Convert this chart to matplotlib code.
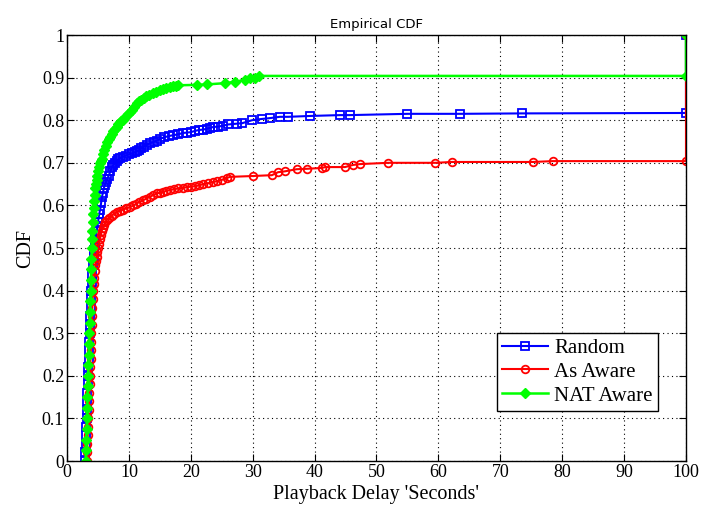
import matplotlib
matplotlib.use('Agg')
import matplotlib.pyplot as plt

# === DATOS: pares (retardo, CDF) ===
random_pts = [
    (2.9, 0), (2.95, 0.02), (3.0, 0.04), (3.05, 0.06), (3.1, 0.08), (3.15, 0.10), (3.2, 0.12),
    (3.25, 0.14), (3.3, 0.16), (3.35, 0.18), (3.4, 0.2), (3.45, 0.22), (3.5, 0.24), (3.55, 0.26),
    (3.6, 0.28), (3.65, 0.30), (3.7, 0.32), (3.75, 0.34), (3.8, 0.36), (3.85, 0.38), (3.9, 0.4),
    (4.0, 0.42), (4.1, 0.44), (4.2, 0.46), (4.3, 0.48), (4.4, 0.495), (4.5, 0.51), (4.6, 0.52),
    (4.7, 0.53), (4.8, 0.54), (4.9, 0.55), (5.0, 0.56), (5.1, 0.57), (5.2, 0.58), (5.35, 0.59),
    (5.5, 0.605), (5.65, 0.62), (5.8, 0.63), (5.95, 0.64), (6.1, 0.648), (6.3, 0.655), (6.5, 0.663),
    (6.75, 0.67), (7.0, 0.68), (7.25, 0.69), (7.5, 0.695), (7.75, 0.70), (8.0, 0.704), (8.3, 0.708),
    (8.6, 0.711), (9.0, 0.714), (9.5, 0.717), (10.0, 0.72), (10.5, 0.722), (11.0, 0.725),
    (11.3, 0.728), (11.7, 0.73), (12.0, 0.734), (12.4, 0.738), (12.9, 0.742), (13.4, 0.746),
    (14.0, 0.749), (14.5, 0.752), (15.0, 0.756), (15.7, 0.76), (16.5, 0.763), (17.2, 0.765),
    (18.0, 0.767), (18.7, 0.77), (19.4, 0.771), (20.0, 0.772), (20.7, 0.775), (21.3, 0.777),
    (22.0, 0.778), (22.6, 0.78), (23.1, 0.782), (23.6, 0.784), (24.4, 0.785), (25.2, 0.787),
    (26.0, 0.79), (27.5, 0.792), (28.3, 0.793), (29.9, 0.80), (31.5, 0.803), (32.8, 0.805),
    (34.4, 0.808), (35.7, 0.808), (39.3, 0.81), (44.1, 0.812), (45.7, 0.812), (55.0, 0.815),
    (63.5, 0.815), (73.5, 0.816), (100, 0.817), (100, 1.0),
]

as_aware_pts = [
    (3.2, 0), (3.25, 0.02), (3.3, 0.04), (3.35, 0.06), (3.4, 0.08), (3.45, 0.10), (3.5, 0.12),
    (3.55, 0.14), (3.6, 0.16), (3.65, 0.18), (3.7, 0.2), (3.75, 0.22), (3.8, 0.24), (3.85, 0.26),
    (3.9, 0.28), (3.95, 0.30), (4.0, 0.32), (4.05, 0.34), (4.1, 0.36), (4.15, 0.38), (4.2, 0.40),
    (4.3, 0.415), (4.4, 0.43), (4.5, 0.445), (4.6, 0.46), (4.7, 0.47), (4.8, 0.48), (4.9, 0.49),
    (5.0, 0.50), (5.15, 0.51), (5.3, 0.52), (5.45, 0.53), (5.6, 0.54), (5.8, 0.548), (6.0, 0.555),
    (6.2, 0.56), (6.4, 0.566), (6.8, 0.571), (7.2, 0.576), (7.6, 0.58), (8.1, 0.585), (8.5, 0.588),
    (9.0, 0.59), (9.6, 0.593), (10.2, 0.596), (10.7, 0.60), (11.2, 0.604), (11.7, 0.608),
    (12.3, 0.612), (12.8, 0.616), (13.4, 0.62), (13.9, 0.624), (14.5, 0.628), (15.0, 0.63),
    (15.5, 0.632), (16.0, 0.634), (16.6, 0.636), (17.3, 0.638), (18.0, 0.64), (18.7, 0.641),
    (19.4, 0.643), (20.0, 0.644), (20.7, 0.645), (21.3, 0.647), (22.0, 0.65), (22.8, 0.652),
    (23.6, 0.655), (24.3, 0.657), (25.0, 0.66), (25.8, 0.664), (26.3, 0.667), (30.0, 0.669),
    (33.1, 0.671), (34.1, 0.678), (35.2, 0.68), (37.1, 0.685), (38.8, 0.686), (41.2, 0.688),
    (41.7, 0.69), (44.9, 0.69), (46.2, 0.695), (47.3, 0.697), (51.9, 0.70), (59.5, 0.70),
    (62.2, 0.702), (75.3, 0.702), (78.5, 0.704), (100, 0.704), (100, 1.0),
]

nat_aware_pts = [
    (3.0, 0), (3.05, 0.025), (3.1, 0.05), (3.15, 0.075), (3.2, 0.1), (3.25, 0.125), (3.3, 0.15),
    (3.35, 0.175), (3.4, 0.2), (3.45, 0.225), (3.5, 0.25), (3.55, 0.275), (3.6, 0.3),
    (3.65, 0.325), (3.7, 0.35), (3.75, 0.375), (3.8, 0.4), (3.85, 0.425), (3.9, 0.45),
    (3.95, 0.475), (4.0, 0.5), (4.05, 0.52), (4.1, 0.54), (4.15, 0.56), (4.2, 0.58), (4.3, 0.595),
    (4.4, 0.61), (4.5, 0.625), (4.6, 0.64), (4.7, 0.65), (4.8, 0.66), (4.9, 0.67), (5.0, 0.68),
    (5.15, 0.69), (5.3, 0.70), (5.45, 0.705), (5.6, 0.71), (5.8, 0.72), (6.0, 0.73), (6.25, 0.74),
    (6.5, 0.75), (6.75, 0.755), (7.0, 0.76), (7.25, 0.768), (7.5, 0.775), (7.75, 0.78),
    (8.0, 0.785), (8.25, 0.79), (8.5, 0.795), (8.8, 0.798), (9.1, 0.80), (9.4, 0.808),
    (9.8, 0.815), (10.1, 0.82), (10.5, 0.825), (10.9, 0.832), (11.3, 0.84), (11.6, 0.844),
    (12.0, 0.848), (12.4, 0.852), (12.8, 0.856), (13.3, 0.86), (13.9, 0.864), (14.4, 0.867),
    (15.0, 0.87), (15.5, 0.873), (16.0, 0.875), (16.6, 0.878), (17.2, 0.88), (17.6, 0.881),
    (18.0, 0.882), (21.0, 0.883), (22.6, 0.884), (25.5, 0.887), (27.1, 0.89), (28.8, 0.895),
    (29.6, 0.898), (30.4, 0.90), (31.0, 0.904), (100, 0.904), (100, 1.0),
]

x_ticks = [0, 10, 20, 30, 40, 50, 60, 70, 80, 90, 100]
y_ticks = [0, 0.1, 0.2, 0.3, 0.4, 0.5, 0.6, 0.7, 0.8, 0.9, 1]
y_labels = ['0', '0.1', '0.2', '0.3', '0.4', '0.5', '0.6', '0.7', '0.8', '0.9', '1']

random_x, random_y = zip(*random_pts)
as_x, as_y = zip(*as_aware_pts)
nat_x, nat_y = zip(*nat_aware_pts)

# === FIGURA ===
fig = plt.figure(figsize=(7.04, 5.12), dpi=100)
ax = fig.add_axes([0.0952, 0.0996, 0.8792, 0.832])

ax.plot(random_x, random_y, color=(0, 0, 1), lw=1.5, marker='s', ms=6,
        mfc='none', mec=(0, 0, 1), mew=1.3, label='Random')
ax.plot(as_x, as_y, color=(1, 0, 0), lw=1.5, marker='o', ms=5.5,
        mfc='none', mec=(1, 0, 0), mew=1.3, label='As Aware')
ax.plot(nat_x, nat_y, color=(0, 1, 0), lw=1.8, marker='D', ms=5,
        mfc=(0, 1, 0), mec=(0, 1, 0), label='NAT Aware')

ax.set_xlim(0, 100)
ax.set_ylim(0, 1)
ax.set_xticks(x_ticks)
ax.set_yticks(y_ticks)
ax.set_yticklabels(y_labels)
ax.grid(True, color='black', linestyle=(0, (1, 3)), linewidth=0.8)
ax.tick_params(direction='in', top=True, right=True, length=5, width=0.8,
               labelsize=13, pad=2)
for lbl in ax.get_xticklabels() + ax.get_yticklabels():
    lbl.set_family('Liberation Serif')
for sp in ax.spines.values():
    sp.set_linewidth(1.0)

ax.set_xlabel("Playback Delay 'Seconds'", family='Liberation Serif', fontsize=14.5, labelpad=3)
ax.set_ylabel('CDF', family='Liberation Serif', fontsize=14.5, labelpad=5)
ax.set_title('Empirical CDF', family='DejaVu Sans', fontsize=9.5, pad=5)

leg = ax.legend(loc='upper right', bbox_to_anchor=(0.955, 0.300),
                prop={'family': 'Liberation Serif', 'size': 15},
                fancybox=False, framealpha=1, edgecolor='black',
                handlelength=2.2, borderaxespad=0, labelspacing=0.2,
                borderpad=0.25, handletextpad=0.3)
leg.get_frame().set_linewidth(1.0)

fig.savefig('out.png', dpi=100)
